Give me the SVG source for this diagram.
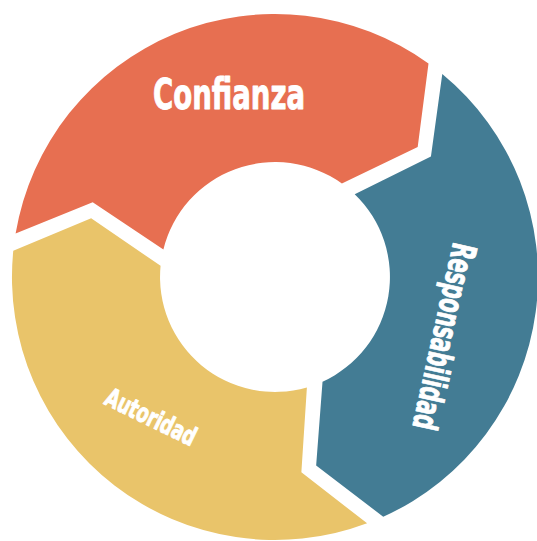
<svg xmlns="http://www.w3.org/2000/svg" width="537" height="541" viewBox="0 0 537 541">
  <defs>
    <style>
      .lbl { fill: #FFFFFF; stroke: #FFFFFF; stroke-width: 0.9; stroke-linejoin: round; font-family: "DejaVu Sans Condensed", "DejaVu Sans", "Liberation Sans Narrow", sans-serif; font-weight: bold; font-stretch: condensed; text-anchor: middle; }
    </style>
    <path id="seg" d="M 15.6 233.6 A 263 263 0 0 1 428.5 63.4 L 417.7 147.1 L 341.9 183.5 A 115 115 0 0 0 163.4 249.4 L 92.7 202.2 Z"/>
  </defs>
  <rect x="0" y="0" width="537" height="541" fill="#FFFFFF"/>
  <g id="node-confianza">
    <use href="#seg" fill="#E76F51"/>
    <text class="lbl" x="229" y="109" font-size="43" textLength="152" lengthAdjust="spacingAndGlyphs">Confianza</text>
  </g>
  <g id="node-responsabilidad">
    <use href="#seg" fill="#437C94" transform="rotate(120 275 277)"/>
    <text class="lbl" font-size="34" textLength="190" lengthAdjust="spacingAndGlyphs" transform="translate(433 334) rotate(102.5)" x="0" y="0">Responsabilidad</text>
  </g>
  <g id="node-autoridad">
    <use href="#seg" fill="#E9C46A" transform="rotate(240 275 277)"/>
    <text class="lbl" font-size="26" textLength="98" lengthAdjust="spacingAndGlyphs" transform="translate(147 425) rotate(26)" x="0" y="0">Autoridad</text>
  </g>
  <g id="connectors"/>
</svg>
